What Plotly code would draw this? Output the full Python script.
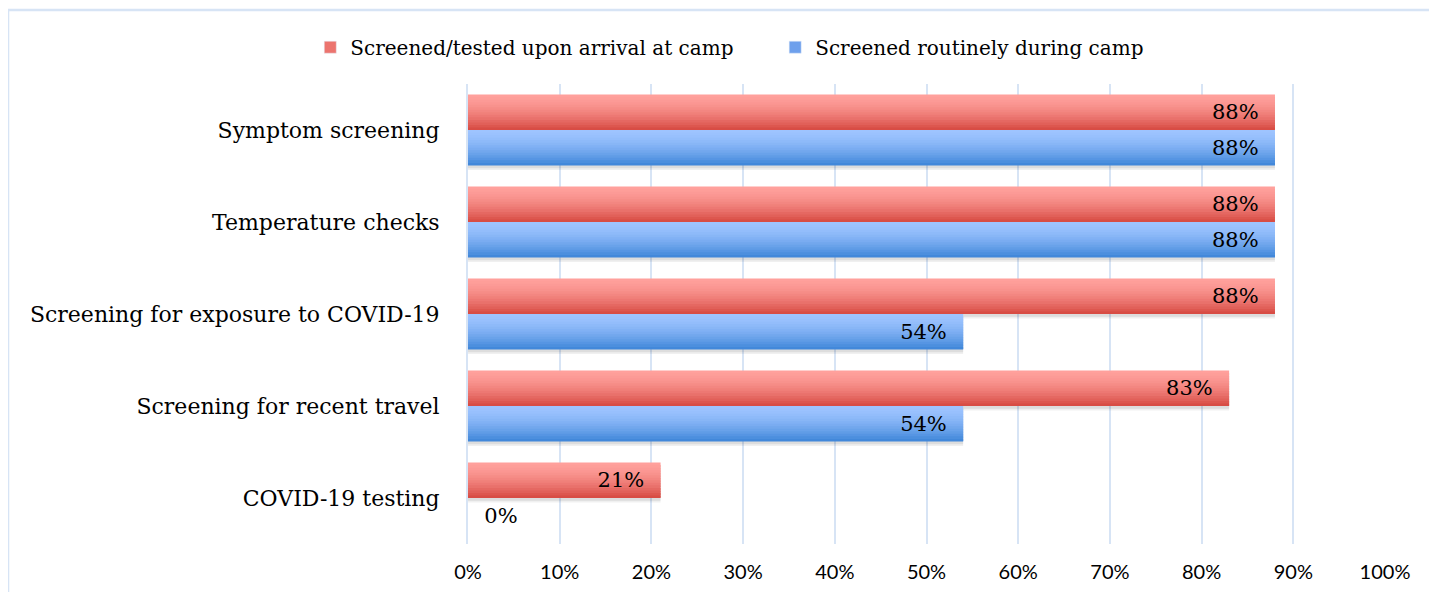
import plotly.graph_objects as go

# data
categories = [
    "Symptom screening",
    "Temperature checks",
    "Screening for exposure to COVID-19",
    "Screening for recent travel",
    "COVID-19 testing",
]
arrival = [0.88, 0.88, 0.88, 0.83, 0.21]
routine = [0.88, 0.88, 0.54, 0.54, 0.0]
series_names = ["Screened/tested upon arrival at camp", "Screened routinely during camp"]

SERIF = "DejaVu Serif"
BAR_W = 0.385   # thickness of one bar, in category units
N_SLICES = 14   # thin strips used to fake the vertical gradient
PAD = "\u00a0\u00a0"  # keeps labels off the bar end like the original


def mix(c1, c2, t):
    return "rgb(%d,%d,%d)" % tuple(round(a + (b - a) * t) for a, b in zip(c1, c2))


# light top -> darker bottom, like the Office gradient fill
red_top, red_bot = (255, 160, 156), (214, 72, 64)
blue_top, blue_bot = (158, 196, 255), (60, 132, 216)

fig = go.Figure()


def add_shadow(values, offset):
    # soft drop shadow under the bars
    for dy, a in [(0.05, 0.06), (0.03, 0.08)]:
        fig.add_trace(go.Bar(
            y=categories, x=values, orientation="h",
            width=BAR_W, offset=offset + dy,
            marker=dict(color="rgba(0,0,0,%g)" % a, line=dict(width=0)),
            showlegend=False, hoverinfo="skip",
        ))


def add_series(values, name, top, bot, offset, legend_color, legend_id):
    h = BAR_W / N_SLICES
    for i in range(N_SLICES):
        t = (i + 0.5) / N_SLICES
        # strips overlap a little so no seams show between them
        w = h if i == N_SLICES - 1 else h * 1.8
        fig.add_trace(go.Bar(
            y=categories, x=values, orientation="h",
            width=w, offset=offset + i * h,
            marker=dict(color=mix(top, bot, t ** 1.6), line=dict(width=0)),
            showlegend=False, hoverinfo="skip",
        ))
    # full-height transparent bar carries the label
    fig.add_trace(go.Bar(
        y=categories, x=values, orientation="h", name=name,
        width=BAR_W, offset=offset,
        marker=dict(color="rgba(0,0,0,0)", line=dict(width=0)),
        text=[("%d%%" % round(v * 100) + PAD) if v > 0 else (PAD + "%d%%" % round(v * 100))
              for v in values],
        textposition=["inside" if v > 0 else "outside" for v in values],
        insidetextanchor="end", textangle=0, constraintext="none",
        textfont=dict(family=SERIF, size=21, color="black"),
        showlegend=False,
    ))
    # legend swatch only
    fig.add_trace(go.Bar(
        y=[None], x=[None], orientation="h", name=name,
        marker=dict(color=legend_color), showlegend=True, legend=legend_id,
    ))


add_shadow(routine, 0.0)
add_shadow(arrival, -BAR_W)
add_series(arrival, series_names[0], red_top, red_bot, -BAR_W, "rgb(236,116,110)", "legend")
add_series(routine, series_names[1], blue_top, blue_bot, 0.0, "rgb(110,160,236)", "legend2")

legend_style = dict(
    orientation="h", xref="paper", yref="paper", xanchor="left",
    y=1.08, yanchor="middle", font=dict(family=SERIF, size=20),
    bgcolor="rgba(0,0,0,0)", itemwidth=30,
)

fig.update_layout(
    barmode="overlay",
    width=1437, height=592,
    margin=dict(l=460, r=60, t=76, b=56, autoexpand=False),
    paper_bgcolor="white", plot_bgcolor="white",
    font=dict(family=SERIF, size=18, color="black"),
    legend=dict(legend_style, x=-0.172),
    legend2=dict(legend_style, x=0.335),
    xaxis=dict(
        range=[0, 1], dtick=0.1, tickformat=".0%",
        showgrid=True, gridcolor="#d7e4f5", gridwidth=2,
        zeroline=False, showline=False,
        tickfont=dict(family="Lato", size=20), ticks="", ticklabelstandoff=14,
    ),
    yaxis=dict(
        autorange="reversed", showgrid=False, zeroline=False,
        tickfont=dict(family=SERIF, size=22), ticks="", ticklabelstandoff=22,
        showline=True, linecolor="#d7e4f5", linewidth=2,
    ),
    shapes=[dict(
        type="rect", xref="paper", yref="paper",
        x0=-0.5016, x1=1.2, y0=-0.3, y1=1.161,
        line=dict(color="#d7e4f5", width=2.5), fillcolor="rgba(0,0,0,0)", layer="below",
    )],
)

fig.write_html("out.html")
